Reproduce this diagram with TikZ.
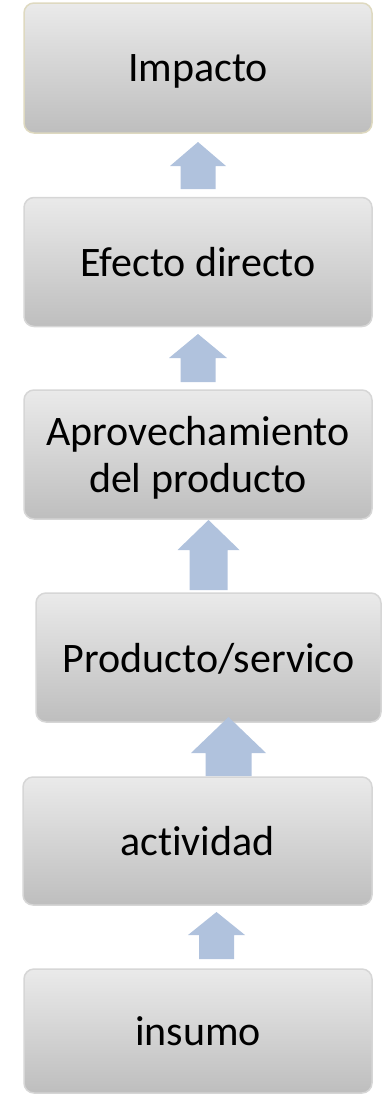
\documentclass[tikz,border=0pt]{standalone}
\usepackage{fontspec}
\setmainfont[Ligatures=NoCommon]{Carlito}
\usetikzlibrary{positioning}

\definecolor{boxtop}{RGB}{234,234,234}
\definecolor{boxbottom}{RGB}{190,190,190}
\definecolor{boxline}{RGB}{214,214,214}
\definecolor{topline}{RGB}{222,217,192}
\definecolor{upfill}{RGB}{176,194,221}

% block arrow: centre x, tip, head base, bottom, head half width, shaft half width
\newcommand{\upblock}[6]{\fill[upfill] (#1-#6,#4) -- (#1-#6,#3) -- (#1-#5,#3) -- (#1,#2) -- (#1+#5,#3) -- (#1+#6,#3) -- (#1+#6,#4) -- cycle;}

\begin{document}
\begin{tikzpicture}[x=1pt,y=-1pt,node distance=190pt,on grid,
  stage/.style={draw=boxline,line width=1.5pt,rounded corners=10pt,
    top color=boxtop,bottom color=boxbottom,minimum width=348pt,minimum height=129pt,
    inner sep=0pt,align=center,text depth=0pt,font=\fontsize{42}{47}\selectfont}]
\useasboundingbox (0,0) rectangle (381,1095);
  \node[stage,draw=topline,minimum height=130pt] (impacto) at (198,68)     {Impacto};
  \node[stage]          (efecto)  [below=194pt of impacto]              {Efecto directo};
  \node[stage]          (aprov)   [below=192.5pt of efecto]             {Aprovechamiento\\del producto};
  \node[stage,minimum width=345pt] (producto) [below=203pt of aprov,xshift=10.5pt] {Producto/servico};
  \node[stage,minimum width=349pt,minimum height=128pt] (actividad) [below=183.5pt of producto,xshift=-11pt] {actividad};
  \node[stage,minimum height=124pt] (insumo) [below=190pt of actividad,xshift=0.5pt] {insumo};
% arrows upward
\upblock{198}{142}{166}{189}{28}{17.5}
\upblock{198}{334}{358}{382}{29}{17.5}
\upblock{208.5}{520}{550}{590}{31}{19}
\upblock{228.5}{717}{753}{776}{37.5}{23}
\upblock{216.5}{912}{935}{959}{28.5}{17.5}
\end{tikzpicture}
\end{document}
